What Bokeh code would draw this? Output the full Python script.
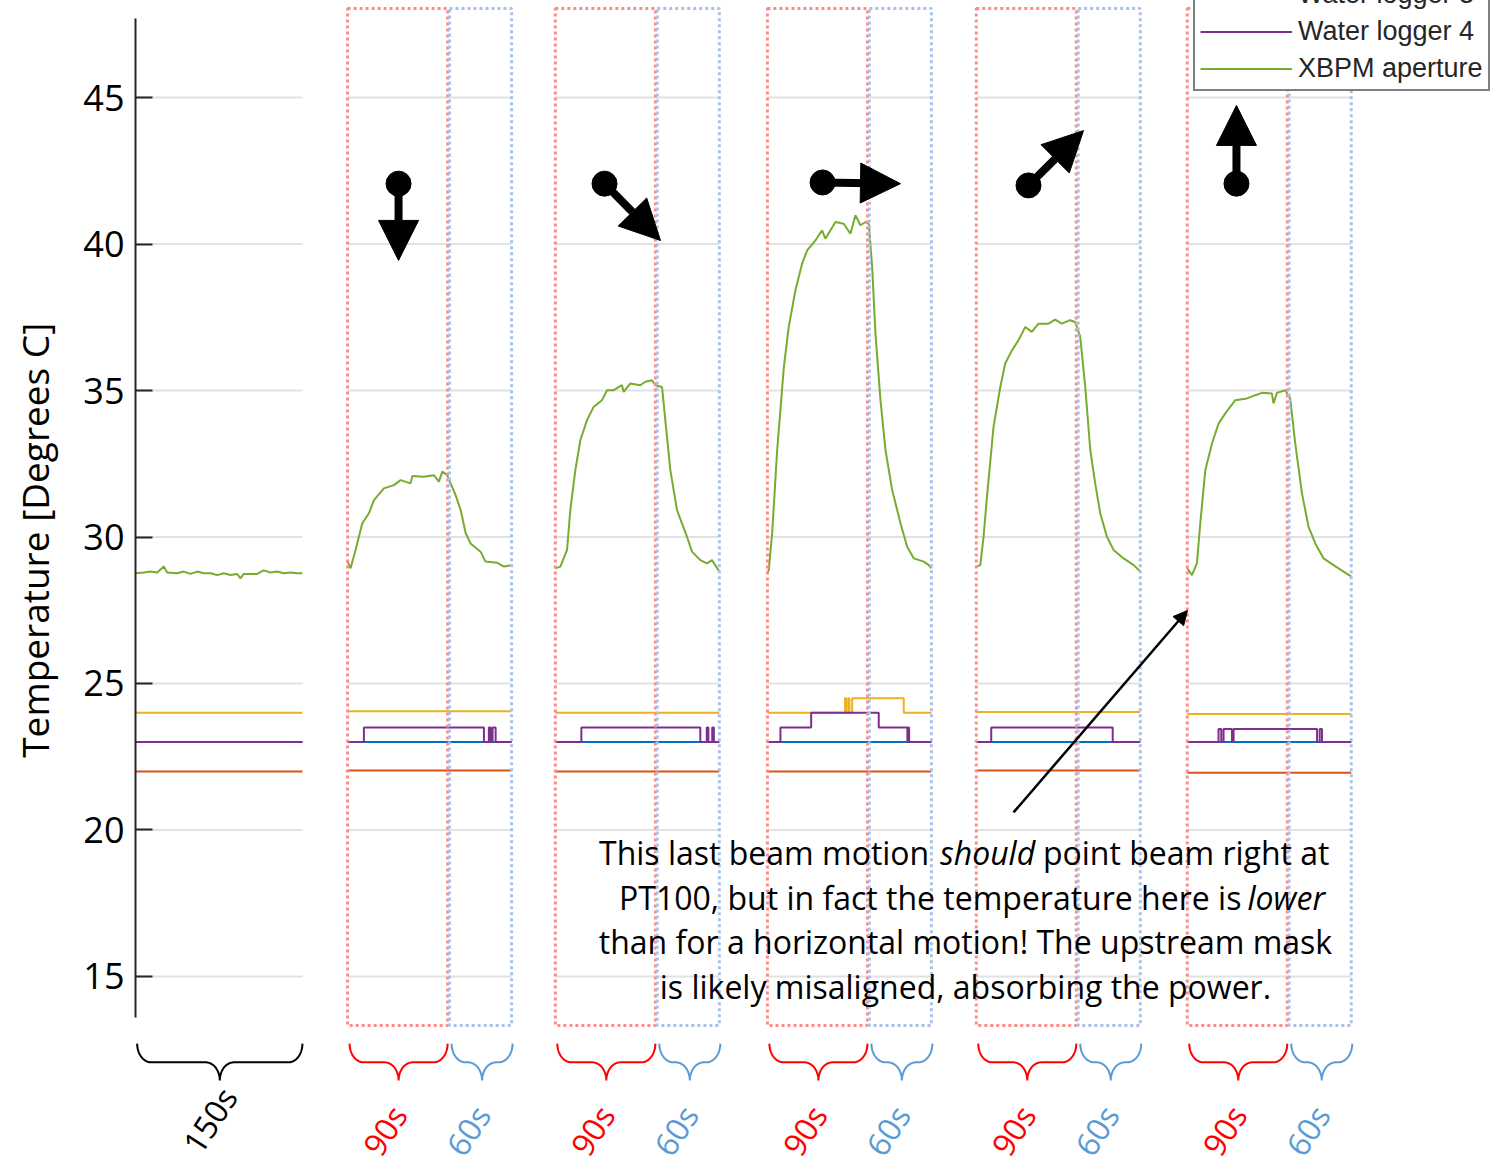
import numpy as np
from bokeh.plotting import figure
from bokeh.models import Range1d, FixedTicker, Legend, LegendItem, Arrow, NormalHead, ColumnDataSource
from bokeh.core.properties import value
from bokeh.embed import file_html
from bokeh.resources import INLINE

# ---------------- data ----------------
y_ticks = [15, 20, 25, 30, 35, 40, 45]
series_names = ["Water logger 1", "Water logger 2", "Water logger 3", "Water logger 4", "XBPM aperture"]
series_colors = ["#0072BD", "#D95319", "#EDB120", "#7E2F8E", "#77AC30"]
label_150 = "150s"
label_90 = "90s"
label_60 = "60s"

# XBPM aperture temperature per panel (time s, temperature degC)
xbpm_t_0 = [0, 7.5, 13.5, 19.5, 25.4, 28.5, 37.5, 43.4, 49.4, 55.4, 61.3, 67.4, 73.4, 79.3, 85.3, 91.3, 94.3, 97.3,
            103.3, 109.3, 115.2, 121.3, 127.3, 133.2, 139.2, 145.2, 150]
xbpm_T_0 = [28.76, 28.79, 28.82, 28.79, 28.99, 28.79, 28.76, 28.82, 28.74, 28.82, 28.76, 28.76, 28.70, 28.76, 28.70,
            28.74, 28.59, 28.74, 28.74, 28.74, 28.86, 28.79, 28.82, 28.76, 28.79, 28.76, 28.76]
xbpm_t_1 = [0, 2.7, 7.3, 13.4, 19.5, 24.1, 33.2, 42.3, 48.5, 57.6, 59.2, 69.8, 78.9, 83.5, 86.6, 91.2, 94.2, 98.8,
            103.4, 108.0, 112.5, 121.6, 126.2, 136.9, 143.0, 150]
xbpm_T_1 = [29.16, 28.93, 29.56, 30.47, 30.81, 31.26, 31.66, 31.77, 31.94, 31.83, 32.08, 32.06, 32.11, 31.89, 32.23,
            32.11, 31.83, 31.43, 30.92, 30.13, 29.78, 29.50, 29.16, 29.12, 28.99, 29.04]
xbpm_t_2 = [0, 4.6, 10.7, 13.7, 18.3, 22.9, 29.0, 35.0, 42.7, 47.3, 53.3, 61.0, 62.5, 68.6, 77.7, 82.3, 88.4, 91.5,
            97.6, 100.6, 105.2, 111.3, 120.4, 125.0, 132.6, 138.7, 143.3, 150]
xbpm_T_2 = [28.93, 28.99, 29.56, 30.92, 32.28, 33.31, 33.99, 34.44, 34.67, 35.01, 35.01, 35.18, 34.95, 35.24, 35.18,
            35.30, 35.35, 35.18, 35.12, 33.99, 32.28, 30.92, 30.01, 29.50, 29.21, 29.10, 29.21, 28.82]
xbpm_t_3 = [0, 1.2, 4.3, 8.9, 15.0, 19.5, 25.6, 31.7, 36.3, 43.9, 50.0, 53.0, 62.2, 69.8, 75.9, 80.5, 85.1, 89.7,
            92.7, 95.8, 98.8, 103.4, 108.0, 114.1, 121.7, 127.8, 133.9, 143.0, 147.6, 150]
xbpm_T_3 = [28.76, 28.87, 30.12, 32.96, 35.80, 37.17, 38.42, 39.33, 39.78, 40.12, 40.47, 40.18, 40.75, 40.69, 40.35,
            40.98, 40.64, 40.75, 40.69, 39.21, 36.94, 34.67, 32.96, 31.60, 30.47, 29.67, 29.27, 29.16, 29.04, 28.93]
xbpm_t_4 = [0, 3.7, 6.7, 9.8, 15.8, 22.0, 26.5, 32.6, 38.7, 44.8, 50.8, 56.9, 66.0, 72.2, 78.3, 85.9, 90.5, 95.1,
            99.7, 104.3, 108.8, 113.4, 119.5, 125.6, 134.8, 144.0, 150]
xbpm_T_4 = [28.99, 29.04, 30.01, 31.38, 33.76, 35.12, 35.92, 36.37, 36.72, 37.17, 37.00, 37.28, 37.28, 37.42, 37.28,
            37.40, 37.34, 36.83, 35.12, 32.96, 31.83, 30.81, 30.01, 29.56, 29.27, 29.04, 28.82]
xbpm_t_5 = [0, 4.3, 8.8, 11.9, 16.5, 22.6, 28.6, 34.8, 43.9, 54.6, 62.2, 68.3, 77.4, 78.9, 82.0, 89.6, 94.1, 98.8,
            104.9, 110.9, 117.1, 124.7, 133.8, 143.0, 150]
xbpm_T_5 = [28.93, 28.70, 29.10, 30.47, 32.28, 33.19, 33.87, 34.22, 34.67, 34.73, 34.84, 34.92, 34.90, 34.56, 34.92,
            35.01, 34.73, 33.19, 31.49, 30.35, 29.78, 29.27, 29.04, 28.82, 28.65]

# Water loggers 1 and 2: constant per panel
logger1_T = [23.0, 23.0, 23.0, 23.0, 23.0, 23.0]
logger2_T = [22.0, 22.03, 22.0, 22.0, 22.03, 21.95]

# Water logger 3: step changes per panel
logger3_t_0 = [0, 150]; logger3_T_0 = [24.0, 24.0]
logger3_t_1 = [0, 150]; logger3_T_1 = [24.05, 24.05]
logger3_t_2 = [0, 150]; logger3_T_2 = [24.0, 24.0]
logger3_t_3 = [0, 71.0, 72.0, 74.0, 75.0, 77.5, 124.7, 150]
logger3_T_3 = [24.0, 24.5, 24.0, 24.5, 24.0, 24.5, 24.0, 24.0]
logger3_t_4 = [0, 150]; logger3_T_4 = [24.03, 24.03]
logger3_t_5 = [0, 150]; logger3_T_5 = [23.96, 23.96]

# Water logger 4: step changes per panel
logger4_t_0 = [0, 150]; logger4_T_0 = [23.0, 23.0]
logger4_t_1 = [0, 14.9, 124.7, 129.2, 130.8, 132.6, 135.4, 150]
logger4_T_1 = [23.0, 23.5, 23.0, 23.5, 23.0, 23.5, 23.0, 23.0]
logger4_t_2 = [0, 23.8, 132.6, 138.5, 140.0, 143.5, 145.0, 150]
logger4_T_2 = [23.0, 23.5, 23.0, 23.5, 23.0, 23.5, 23.0, 23.0]
logger4_t_3 = [0, 11.9, 40.0, 101.8, 128.0, 128.8, 129.6, 150]
logger4_T_3 = [23.0, 23.5, 24.0, 23.5, 23.0, 23.5, 23.0, 23.0]
logger4_t_4 = [0, 13.7, 124.8, 150]
logger4_T_4 = [23.0, 23.5, 23.0, 23.0]
logger4_t_5 = [0, 28.6, 31.1, 33.2, 40.9, 42.4, 118.7, 121.1, 123.2, 150]
logger4_T_5 = [23.0, 23.45, 23.0, 23.45, 23.0, 23.45, 23.0, 23.45, 23.0, 23.0]

xbpm_t = [xbpm_t_0, xbpm_t_1, xbpm_t_2, xbpm_t_3, xbpm_t_4, xbpm_t_5]
xbpm_T = [xbpm_T_0, xbpm_T_1, xbpm_T_2, xbpm_T_3, xbpm_T_4, xbpm_T_5]
logger3_t = [logger3_t_0, logger3_t_1, logger3_t_2, logger3_t_3, logger3_t_4, logger3_t_5]
logger3_T = [logger3_T_0, logger3_T_1, logger3_T_2, logger3_T_3, logger3_T_4, logger3_T_5]
logger4_t = [logger4_t_0, logger4_t_1, logger4_t_2, logger4_t_3, logger4_t_4, logger4_t_5]
logger4_T = [logger4_T_0, logger4_T_1, logger4_T_2, logger4_T_3, logger4_T_4, logger4_T_5]

# ---------------- layout ----------------
OFFS = [0, 194, 384, 578, 769, 962]      # panel start on the common time axis (s)
SCALE = [1.018, 1, 1, 1, 1, 1]
FONT = "Open Sans"

p = figure(width=1493, height=1166, output_backend="svg", toolbar_location=None,
           x_range=Range1d(0, 1242.1), y_range=Range1d(8.515, 48.311),
           x_axis_location=None, y_axis_location="left", title=None,
           min_border_left=135, min_border_right=0, min_border_top=0, min_border_bottom=0)
p.outline_line_color = None
p.grid.visible = False
p.background_fill_color = "white"

ax = p.yaxis[0]
ax.bounds = (13.6, 47.7)
ax.ticker = FixedTicker(ticks=y_ticks)
ax.axis_line_color = "#262626"
ax.axis_line_width = 2
ax.major_tick_in = 17
ax.major_tick_out = 0
ax.major_tick_line_color = "#262626"
ax.major_tick_line_width = 2
ax.minor_tick_line_color = None
ax.major_label_text_font = FONT
ax.major_label_text_font_size = "36px"
ax.major_label_text_color = "black"
ax.major_label_standoff = 11
# leading no-break spaces shift the centred label upward along the axis
ax.axis_label = "\u00a0" * 9 + "Temperature [Degrees C]"
ax.axis_label_text_font = FONT
ax.axis_label_text_font_size = "37px"
ax.axis_label_text_font_style = "normal"
ax.axis_label_text_color = "black"
ax.axis_label_standoff = 20


def X(i, t):
    return OFFS[i] + SCALE[i] * np.asarray(t, dtype=float)


legend_r = [None] * 5
for i in range(6):
    w = 150 * SCALE[i]
    p.segment(x0=[OFFS[i]] * len(y_ticks), x1=[OFFS[i] + w] * len(y_ticks), y0=y_ticks, y1=y_ticks,
              line_color="#e2e2e2", line_width=2)
for i in range(6):
    r1 = p.line(X(i, [0, 150]), [logger1_T[i]] * 2, line_color=series_colors[0], line_width=2)
    r2 = p.line(X(i, [0, 150]), [logger2_T[i]] * 2, line_color=series_colors[1], line_width=2)
    r3 = p.step(X(i, logger3_t[i]), logger3_T[i], mode="after", line_color=series_colors[2], line_width=2)
    r4 = p.step(X(i, logger4_t[i]), logger4_T[i], mode="after", line_color=series_colors[3], line_width=2)
    r5 = p.line(X(i, xbpm_t[i]), xbpm_T[i], line_color=series_colors[4], line_width=2)
    if i == 0:
        legend_r = [r1, r2, r3, r4, r5]

# dotted phase boxes
for i in range(1, 6):
    p.quad(left=[OFFS[i]], right=[OFFS[i] + 91.5], bottom=[13.33], top=[48.04], fill_color=None,
           line_color="#ff8a8a", line_width=3, line_dash="3 3")
    p.quad(left=[OFFS[i] + 93.2], right=[OFFS[i] + 150], bottom=[13.33], top=[48.04], fill_color=None,
           line_color="#a9c1e8", line_width=3, line_dash="3 3")


# braces
def brace(xa, xb, ytop=12.71, ymid=12.07, ytip=11.45, r=12.8):
    xm = (xa + xb) / 2
    th = np.linspace(0, np.pi / 2, 14)
    x1 = xa + r * (1 - np.cos(th)); y1 = ytop - (ytop - ymid) * np.sin(th)
    x2 = xm - r + r * np.sin(th); y2 = ymid - (ymid - ytip) * (1 - np.cos(th))
    x3 = xm + r - r * np.sin(th[::-1]); y3 = y2[::-1]
    x4 = xb - r * (1 - np.cos(th[::-1])); y4 = y1[::-1]
    return np.concatenate([x1, x2, x3, x4]), np.concatenate([y1, y2, y3, y4])


bx, by = brace(1.5, 150 * SCALE[0])
p.line(bx, by, line_color="black", line_width=2)
for i in range(1, 6):
    bx, by = brace(OFFS[i] + 1.8, OFFS[i] + 91.5)
    p.line(bx, by, line_color="#ff0000", line_width=2)
    bx, by = brace(OFFS[i] + 95.1, OFFS[i] + 150.9)
    p.line(bx, by, line_color="#5b9bd5", line_width=2)

lx = [67.7]
ly = [10.1]
lt = [label_150]
lc = ["black"]
for i in range(1, 6):
    lx += [OFFS[i] + 33.8, OFFS[i] + 110]
    ly += [9.75, 9.75]
    lt += [label_90, label_60]
    lc += ["#ff0000", "#5b9bd5"]
lsrc = ColumnDataSource(dict(x=lx, y=ly, text=lt, color=lc))
p.text(x="x", y="y", text="text", text_color="color", source=lsrc, angle=np.radians(57),
       text_align="center", text_baseline="middle", text_font=value(FONT), text_font_size="32px")

# beam motion arrows
arrows = [((240.6, 42.06), (240.6, 39.44)),
          ((429.0, 42.06), (480.2, 40.12)),
          ((628.4, 42.10), (699.7, 42.06)),
          ((816.8, 42.00), (867.1, 43.87)),
          ((1007.0, 42.06), (1007.0, 44.73))]
for (xs, ys), (xe, ye) in arrows:
    p.add_layout(Arrow(end=NormalHead(size=40, fill_color="black", line_color="black"),
                       x_start=xs, y_start=ys, x_end=xe, y_end=ye, line_width=8, line_color="black"))
p.scatter([a[0][0] for a in arrows], [a[0][1] for a in arrows], size=25, color="black")

# annotation
p.add_layout(Arrow(end=NormalHead(size=14, fill_color="black", line_color="black"),
                   x_start=803.1, y_start=20.60, x_end=962.2, y_end=27.49, line_width=2.5, line_color="black"))

tf = value(FONT)
fs = "32px"
p.text(x=[726.0], y=[19.23], text=["This last beam motion"], text_align="right", text_baseline="middle",
       text_font=tf, text_font_size=fs)
p.text(x=[779.3], y=[19.23], text=["should"], text_align="center", text_baseline="middle",
       text_font=tf, text_font_size=fs, text_font_style="italic")
p.text(x=[830.0], y=[19.23], text=["point beam right at"], text_align="left", text_baseline="middle",
       text_font=tf, text_font_size=fs)
p.text(x=[1011.5], y=[17.70], text=["PT100, but in fact the temperature here is"], text_align="right",
       text_baseline="middle", text_font=tf, text_font_size=fs)
p.text(x=[1017.1], y=[17.70], text=["lower"], text_align="left", text_baseline="middle",
       text_font=tf, text_font_size=fs, text_font_style="italic")
p.text(x=[759.1], y=[16.19], text=["than for a horizontal motion! The upstream mask"], text_align="center",
       text_baseline="middle", text_font=tf, text_font_size=fs)
p.text(x=[759.1], y=[14.66], text=["is likely misaligned, absorbing the power."], text_align="center",
       text_baseline="middle", text_font=tf, text_font_size=fs)

legend = Legend(items=[LegendItem(label=n, renderers=[r]) for n, r in zip(series_names, legend_r)],
                location=(1058, 1075), orientation="vertical", glyph_width=92, glyph_height=31,
                label_height=31, spacing=6, padding=5, margin=0, label_standoff=6,
                label_text_font="Liberation Sans", label_text_font_size="27px", label_text_color="#262626",
                border_line_color="black", border_line_width=2, background_fill_color="white",
                background_fill_alpha=1)
p.add_layout(legend, "center")

open("out.html", "w").write(file_html(p, INLINE))
